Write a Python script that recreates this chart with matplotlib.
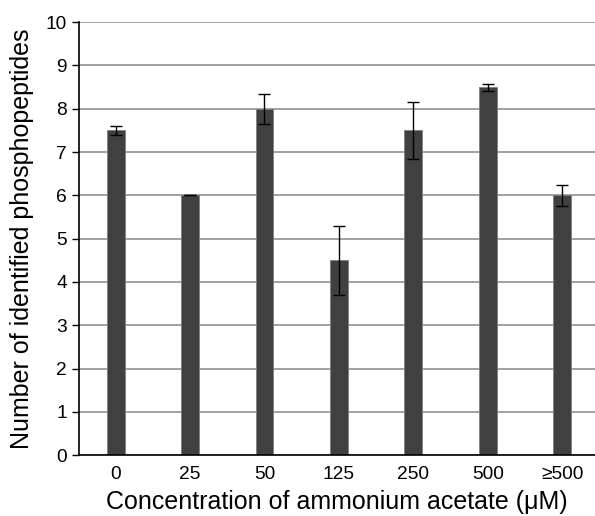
import matplotlib
matplotlib.use('Agg')
import matplotlib.pyplot as plt
import numpy as np

plt.rcParams['font.family'] = ['Liberation Sans', 'DejaVu Sans']

concentrations = ['0', '25', '50', '125', '250', '500', '≥500']
peptides = [7.5, 6.0, 8.0, 4.5, 7.5, 8.5, 6.0]
errors = [0.1, 0.0, 0.35, 0.8, 0.65, 0.08, 0.24]

fig = plt.figure(figsize=(5.95, 5.16), dpi=100)
ax = fig.add_axes([0.133, 0.118, 0.867, 0.839])

x = np.arange(len(concentrations))
ax.set_axisbelow(True)
ax.yaxis.grid(True, color='#888888', linewidth=1.1)
ax.bar(x, peptides, width=0.24, color='#404040', edgecolor='#7f7f7f', linewidth=0.6, zorder=2)
ax.errorbar(x, peptides, yerr=errors, fmt='none', ecolor='black', elinewidth=1.0,
            capsize=4.5, capthick=1.0, zorder=3)

ax.set_xlim(-0.49, 6.44)
ax.set_ylim(0, 10)
ax.set_yticks(range(0, 11))
ax.set_xticks(x)
ax.set_xticklabels(concentrations)
ax.tick_params(axis='y', length=5, width=1, labelsize=13.8, direction='out', pad=4)
ax.tick_params(axis='x', length=0, labelsize=13.8, pad=8)

for side in ['top', 'right']:
    ax.spines[side].set_visible(False)
ax.spines['left'].set_linewidth(1.2)
ax.spines['bottom'].set_linewidth(1.2)

ax.set_xlabel('Concentration of ammonium acetate (μM)', fontsize=18, labelpad=5)
ax.set_ylabel('Number of identified phosphopeptides', fontsize=18, labelpad=8)

fig.savefig('out.png', dpi=100)
